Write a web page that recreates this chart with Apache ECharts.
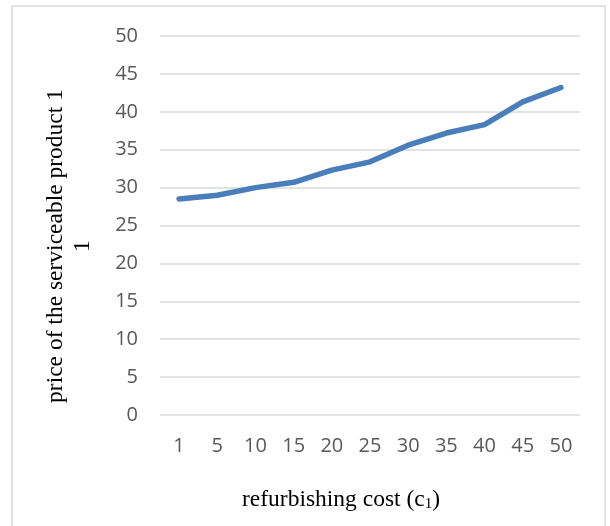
<!DOCTYPE html>
<html>
<head>
<meta charset="utf-8">
<script src="https://cdn.jsdelivr.net/npm/echarts@6/dist/echarts.min.js"></script>
<style>
  html, body { margin: 0; padding: 0; background: #fff; }
  #chart { width: 610px; height: 526px; }
</style>
</head>
<body>
<div id="chart"></div>
<script>
// Refurbishing cost levels on the horizontal axis
const categories = ['1', '5', '10', '15', '20', '25', '30', '35', '40', '45', '50'];
// Price of serviceable product 1 at each cost level
const prices = [28.5, 29.0, 30.0, 30.7, 32.3, 33.4, 35.6, 37.2, 38.3, 41.3, 43.2];
// Value axis range and step
const yMin = 0, yMax = 50, yStep = 5;

const chart = echarts.init(document.getElementById('chart'), null, { renderer: 'canvas' });

const tickFont = '"Open Sans", "Noto Sans", sans-serif';
const titleFont = '"Liberation Serif", "DejaVu Serif", serif';

chart.setOption({
  animation: false,
  backgroundColor: '#ffffff',
  grid: { left: 160, right: 30, top: 36, bottom: 111 },
  xAxis: {
    type: 'category',
    data: categories,
    boundaryGap: true,
    axisLine: { show: false },
    axisTick: { show: false },
    axisLabel: { color: '#595959', fontSize: 20, fontFamily: tickFont, margin: 21 }
  },
  yAxis: {
    type: 'value',
    min: yMin, max: yMax, interval: yStep,
    axisLine: { show: false },
    axisTick: { show: false },
    splitLine: { lineStyle: { color: '#d9d9d9', width: 1.5 } },
    axisLabel: { color: '#595959', fontSize: 20, fontFamily: tickFont, margin: 22 }
  },
  series: [{
    type: 'line',
    data: prices,
    symbol: 'none',
    lineStyle: { color: '#4a7ebb', width: 5.5, cap: 'round', join: 'round' }
  }],
  graphic: [
    {
      type: 'rect',
      shape: { x: 12, y: 6, width: 593, height: 530 },
      style: { fill: 'none', stroke: '#d9d9d9', lineWidth: 1.5 },
      silent: true
    },
    {
      type: 'text',
      x: 69, y: 246,
      rotation: Math.PI / 2,
      style: {
        text: 'price of the serviceable product 1\n1',
        font: '23.5px ' + titleFont,
        fill: '#000000',
        align: 'center',
        verticalAlign: 'middle',
        lineHeight: 27
      }
    },
    {
      type: 'text',
      x: 341, y: 500,
      style: {
        text: '{t|refurbishing cost (c}{s|1}{t|)}',
        align: 'center',
        verticalAlign: 'middle',
        rich: {
          t: { font: '23.5px ' + titleFont, fill: '#000000' },
          s: { font: '15px ' + titleFont, fill: '#000000', padding: [9, 0, 0, 0] }
        }
      }
    }
  ]
});
</script>
</body>
</html>
